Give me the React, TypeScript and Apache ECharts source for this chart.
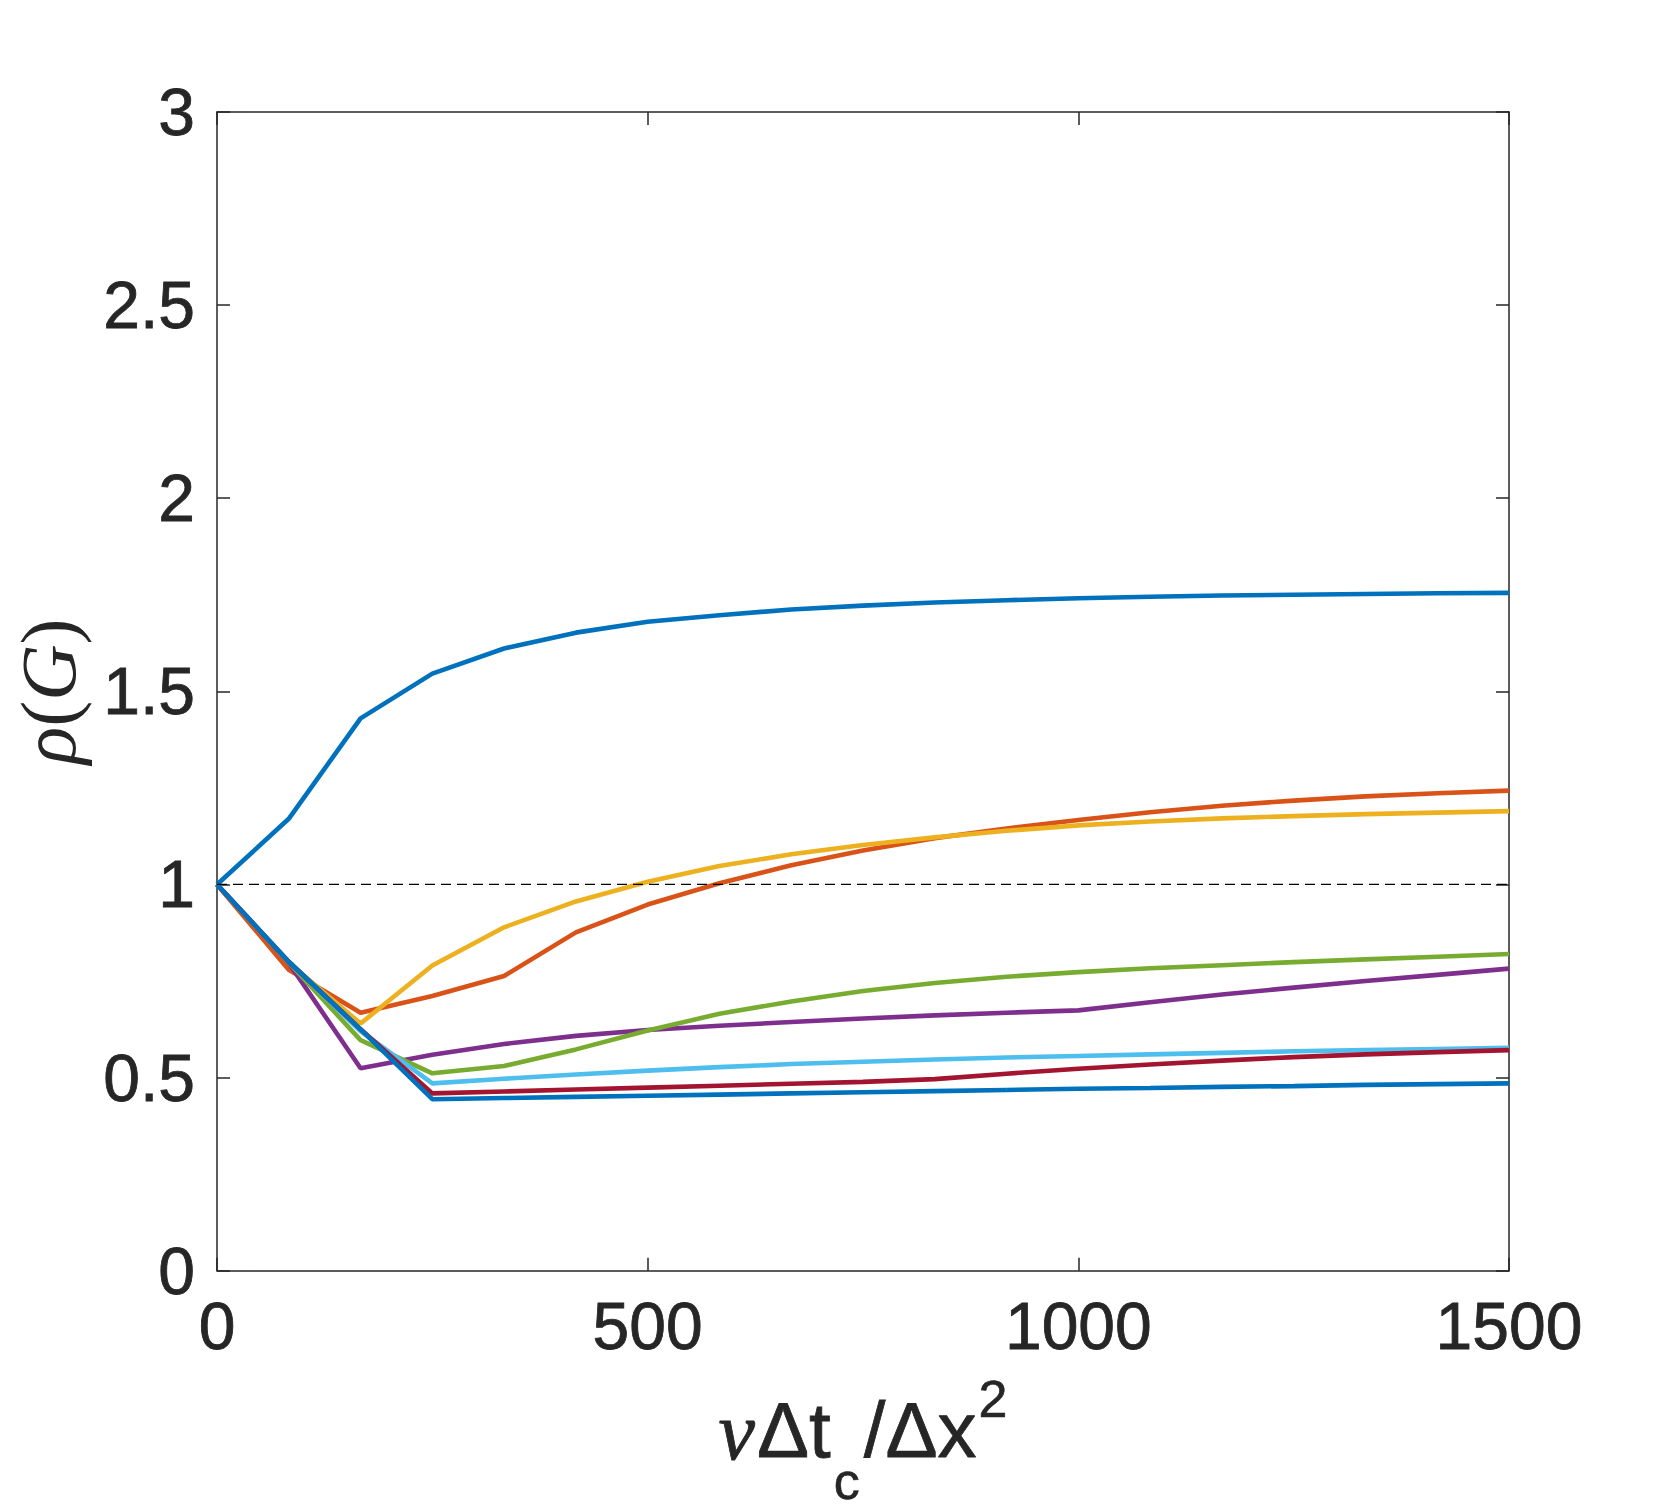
import React, { useEffect, useRef } from "react";
import * as echarts from "echarts";

// x positions (νΔt_c/Δx²)
const X = [0, 83.3, 166.7, 250, 333.3, 416.7, 500, 583.3, 666.7, 750, 833.3, 916.7, 1000, 1083.3, 1166.7, 1250, 1333.3, 1416.7, 1500];

// ρ(G) values per curve
const S1 = [1.0, 1.17, 1.43, 1.546, 1.611, 1.652, 1.68, 1.697, 1.712, 1.722, 1.73, 1.736, 1.741, 1.745, 1.748, 1.75, 1.752, 1.754, 1.755];
const S2 = [1.0, 0.779, 0.668, 0.711, 0.763, 0.876, 0.948, 1.003, 1.05, 1.088, 1.12, 1.145, 1.167, 1.187, 1.204, 1.217, 1.228, 1.236, 1.243];
const S3 = [1.0, 0.797, 0.64, 0.79, 0.889, 0.956, 1.007, 1.048, 1.078, 1.102, 1.122, 1.139, 1.153, 1.163, 1.171, 1.177, 1.182, 1.186, 1.19];
const S4 = [1.0, 0.797, 0.524, 0.559, 0.587, 0.608, 0.623, 0.634, 0.644, 0.653, 0.661, 0.668, 0.674, 0.695, 0.715, 0.733, 0.75, 0.766, 0.782];
const S5 = [1.0, 0.798, 0.597, 0.511, 0.53, 0.573, 0.622, 0.665, 0.697, 0.724, 0.745, 0.761, 0.773, 0.783, 0.791, 0.799, 0.806, 0.813, 0.82];
const S6 = [1.0, 0.8, 0.62, 0.485, 0.497, 0.508, 0.518, 0.527, 0.535, 0.541, 0.547, 0.552, 0.556, 0.56, 0.564, 0.568, 0.571, 0.574, 0.577];
const S7 = [1.0, 0.8, 0.625, 0.459, 0.464, 0.469, 0.474, 0.479, 0.484, 0.489, 0.496, 0.51, 0.523, 0.534, 0.544, 0.553, 0.56, 0.566, 0.571];
const S8 = [1.0, 0.8, 0.625, 0.444, 0.447, 0.45, 0.453, 0.456, 0.459, 0.462, 0.465, 0.468, 0.471, 0.473, 0.476, 0.478, 0.481, 0.483, 0.485];

const SERIES = [S1, S2, S3, S4, S5, S6, S7, S8];
const COLORS = ["#0072BD", "#D95319", "#EDB120", "#7E2F8E", "#77AC30", "#4DBEEE", "#A2142F", "#0072BD"];

// reference level
const REF_X = [0, 1500];
const REF_Y = [1, 1];

const AXIS_COLOR = "#262626";
const SANS = "'Liberation Sans', Arial, Helvetica, sans-serif";
const SERIF = "'Liberation Serif', 'Times New Roman', serif";

export default function App() {
  const ref = useRef<HTMLDivElement>(null);

  useEffect(() => {
    if (!ref.current) return;
    const chart = echarts.init(ref.current, null, { renderer: "svg" });

    const axisCommon = {
      type: "value" as const,
      axisLine: { show: true, onZero: false, lineStyle: { color: AXIS_COLOR, width: 1.5 } },
      axisTick: { show: true, inside: true, length: 13, lineStyle: { color: AXIS_COLOR, width: 1.5 } },
      splitLine: { show: false },
    };

    const tickLabel = {
      show: true,
      fontSize: 66,
      color: AXIS_COLOR,
      fontFamily: SANS,
      margin: 22,
      textBorderColor: AXIS_COLOR,
      textBorderWidth: 0.8,
      formatter: (v: number) => String(v),
    };

    const lineSeries = SERIES.map((vals, i) => ({
      type: "line",
      data: X.map((x, j) => [x, vals[j]]),
      showSymbol: false,
      symbol: "none",
      lineStyle: { color: COLORS[i], width: 4.6 },
      itemStyle: { color: COLORS[i] },
      z: 3 + i,
      silent: true,
    }));

    const option = {
      animation: false,
      backgroundColor: "#ffffff",
      grid: { left: 217, right: 158, top: 112, bottom: 236, containLabel: false },
      xAxis: [
        {
          ...axisCommon,
          position: "bottom",
          min: 0,
          max: 1500,
          interval: 500,
          axisLabel: tickLabel,
          name: "{nu|ν}{rm|Δt}{sub|c}{rm|/Δx}{sup|2}",
          nameLocation: "middle",
          nameGap: 102,
          nameTextStyle: {
            color: AXIS_COLOR,
            rich: {
              nu: { fontFamily: SERIF, fontStyle: "italic", fontSize: 82, lineHeight: 78, padding: [18, 2, 0, 0], verticalAlign: "top", color: AXIS_COLOR, textBorderColor: AXIS_COLOR, textBorderWidth: 0.8 },
              rm: { fontFamily: SANS, fontSize: 78, lineHeight: 78, padding: [18, 0, 0, 0], verticalAlign: "top", color: AXIS_COLOR, textBorderColor: AXIS_COLOR, textBorderWidth: 0.8 },
              sub: { fontFamily: SANS, fontSize: 52, lineHeight: 52, padding: [82, 4, 0, 3], verticalAlign: "top", color: AXIS_COLOR, textBorderColor: AXIS_COLOR, textBorderWidth: 0.6 },
              sup: { fontFamily: SANS, fontSize: 52, lineHeight: 52, padding: [0, 0, 0, 2], verticalAlign: "top", color: AXIS_COLOR, textBorderColor: AXIS_COLOR, textBorderWidth: 0.6 },
            },
          },
        },
        {
          ...axisCommon,
          position: "top",
          min: 0,
          max: 1500,
          interval: 500,
          axisLabel: { show: false },
        },
      ],
      yAxis: [
        {
          ...axisCommon,
          position: "left",
          min: 0,
          max: 3,
          interval: 0.5,
          axisLabel: tickLabel,
          name: "{it|ρ}{rm|(}{it|G}{rm|)}",
          nameLocation: "middle",
          nameRotate: 90,
          nameGap: 130,
          nameTextStyle: {
            color: AXIS_COLOR,
            rich: {
              it: { fontFamily: SERIF, fontStyle: "italic", fontSize: 78, color: AXIS_COLOR },
              rm: { fontFamily: SERIF, fontSize: 78, color: AXIS_COLOR },
            },
          },
        },
        {
          ...axisCommon,
          position: "right",
          min: 0,
          max: 3,
          interval: 0.5,
          axisLabel: { show: false },
        },
      ],
      series: [
        ...lineSeries,
        {
          type: "line",
          data: REF_X.map((x, j) => [x, REF_Y[j]]),
          showSymbol: false,
          symbol: "none",
          lineStyle: { color: "#000000", width: 1.3, type: [10, 6] },
          z: 20,
          silent: true,
        },
      ],
    };

    chart.setOption(option as any);
    return () => chart.dispose();
  }, []);

  return (
    <div
      ref={ref}
      style={{ position: "fixed", left: 0, top: 0, width: 1667, height: 1512, background: "#fff" }}
    />
  );
}
